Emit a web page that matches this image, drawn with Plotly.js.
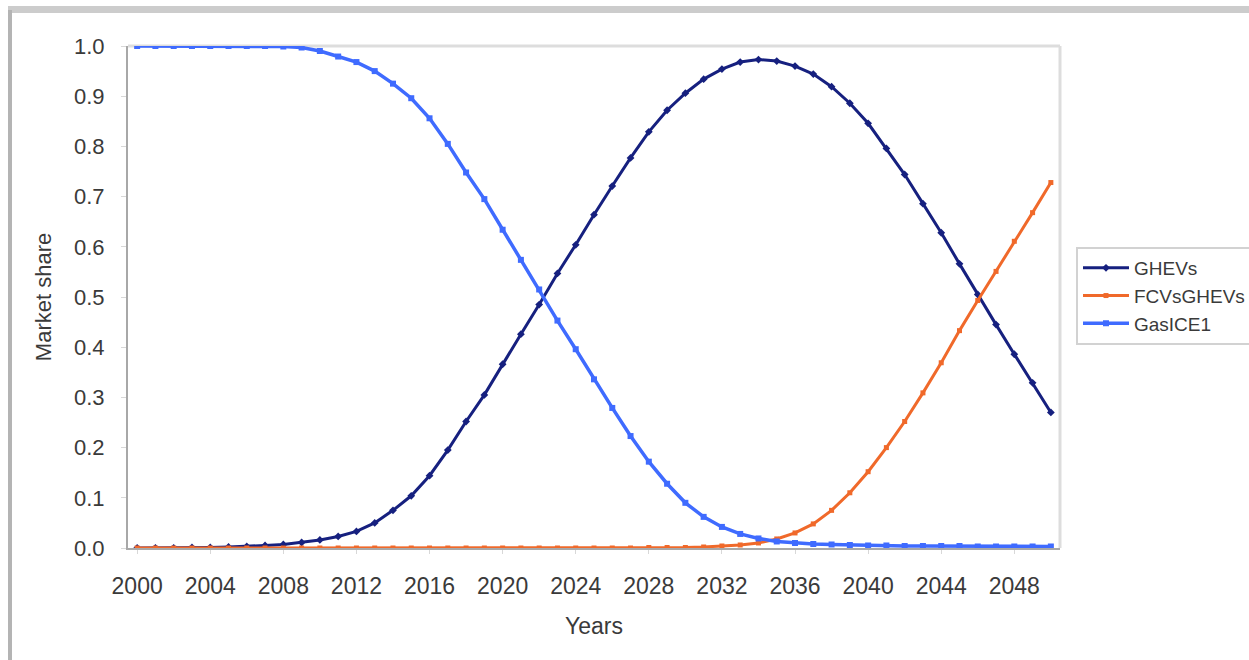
<!DOCTYPE html>
<html>
<head>
<meta charset="utf-8">
<script src="https://cdn.plot.ly/plotly-3.0.1.min.js"></script>
<style>
  html, body { margin: 0; padding: 0; background: #ffffff; }
  #chart { width: 1249px; height: 660px; }
</style>
</head>
<body>
<div id="chart"></div>
<script>
// Categories (years)
const years = [2000,2001,2002,2003,2004,2005,2006,2007,2008,2009,
               2010,2011,2012,2013,2014,2015,2016,2017,2018,2019,
               2020,2021,2022,2023,2024,2025,2026,2027,2028,2029,
               2030,2031,2032,2033,2034,2035,2036,2037,2038,2039,
               2040,2041,2042,2043,2044,2045,2046,2047,2048,2049,2050];

// Series values (market share)
const ghevs = [0.000,0.000,0.000,0.001,0.001,0.002,0.003,0.005,0.007,0.011,
               0.016,0.023,0.033,0.050,0.075,0.104,0.144,0.195,0.252,0.305,
               0.366,0.426,0.485,0.547,0.604,0.664,0.721,0.777,0.829,0.872,
               0.906,0.934,0.954,0.968,0.973,0.970,0.960,0.944,0.919,0.886,
               0.846,0.796,0.744,0.686,0.628,0.566,0.505,0.445,0.386,0.329,0.270];

const fcvsGhevs = [0.000,0.000,0.000,0.000,0.000,0.000,0.000,0.000,0.000,0.000,
                   0.000,0.000,0.000,0.000,0.000,0.000,0.000,0.000,0.000,0.000,
                   0.000,0.000,0.000,0.000,0.000,0.000,0.000,0.000,0.001,0.001,
                   0.001,0.002,0.004,0.006,0.010,0.018,0.030,0.048,0.075,0.110,
                   0.152,0.200,0.252,0.309,0.369,0.433,0.493,0.551,0.611,0.668,0.728];

const gasICE1 = [1.000,1.000,1.000,1.000,1.000,1.000,1.000,1.000,0.999,0.997,
                 0.990,0.979,0.968,0.950,0.925,0.896,0.856,0.805,0.748,0.695,
                 0.634,0.574,0.515,0.453,0.396,0.336,0.279,0.223,0.172,0.128,
                 0.090,0.062,0.042,0.028,0.019,0.013,0.010,0.008,0.007,0.006,
                 0.005,0.005,0.004,0.004,0.004,0.004,0.003,0.003,0.003,0.003,0.003];

// Tick labels
const xTickVals = [2000,2004,2008,2012,2016,2020,2024,2028,2032,2036,2040,2044,2048];
const xTickText = ["2000","2004","2008","2012","2016","2020","2024","2028","2032","2036","2040","2044","2048"];
const yTickVals = [0,0.1,0.2,0.3,0.4,0.5,0.6,0.7,0.8,0.9,1.0];
const yTickText = ["0.0","0.1","0.2","0.3","0.4","0.5","0.6","0.7","0.8","0.9","1.0"];

const seriesNames = ["GHEVs", "FCVsGHEVs", "GasICE1"];
const seriesColors = ["#16207f", "#f0692a", "#3f6bff"];

const FONT = "Liberation Sans, Arial, sans-serif";
const TXT = "#3a3a3a";

const traces = [
  { x: years, y: ghevs, name: seriesNames[0], type: "scatter", mode: "lines+markers",
    line: { color: seriesColors[0], width: 3 },
    marker: { color: seriesColors[0], symbol: "diamond", size: 6 } },
  { x: years, y: fcvsGhevs, name: seriesNames[1], type: "scatter", mode: "lines+markers",
    line: { color: seriesColors[1], width: 3 },
    marker: { color: seriesColors[1], symbol: "square", size: 5 } },
  { x: years, y: gasICE1, name: seriesNames[2], type: "scatter", mode: "lines+markers",
    line: { color: seriesColors[2], width: 3.5 },
    marker: { color: seriesColors[2], symbol: "square", size: 6 } }
];

// pixel -> paper helpers for frame decorations
const L = 128, R = 1060, T = 46, B = 548;
const px = v => (v - L) / (R - L);
const py = v => (B - v) / (B - T);

const layout = {
  width: 1249, height: 660,
  margin: { l: L, r: 1249 - R, t: T, b: 660 - B, pad: 0, autoexpand: false },
  paper_bgcolor: "#ffffff",
  plot_bgcolor: "#ffffff",
  font: { family: FONT, size: 22, color: TXT },
  showlegend: true,
  legend: {
    x: px(1076), xanchor: "left",
    y: py(296), yanchor: "middle",
    bgcolor: "#ffffff",
    bordercolor: "#d2d2d2", borderwidth: 2,
    font: { family: FONT, size: 19, color: TXT },
    itemwidth: 46,
    tracegroupgap: 2
  },
  xaxis: {
    range: [1999.5, 2050.5],
    tickmode: "array", tickvals: xTickVals, ticktext: xTickText,
    showgrid: false, zeroline: false,
    showline: true, linecolor: "#a8a8a8", linewidth: 2,
    ticks: "outside", ticklen: 4, tickcolor: "#d8d8d8",
    ticklabelstandoff: 12,
    tickfont: { family: FONT, size: 23, color: TXT },
    title: { text: "Years", font: { family: FONT, size: 23, color: TXT }, standoff: 20 }
  },
  yaxis: {
    range: [0, 1],
    tickmode: "array", tickvals: yTickVals, ticktext: yTickText,
    showgrid: false, zeroline: false,
    showline: true, linecolor: "#a8a8a8", linewidth: 2,
    ticks: "outside", ticklen: 5, tickcolor: "#d8d8d8",
    ticklabelstandoff: 12,
    tickfont: { family: FONT, size: 22, color: TXT },
    title: { text: "Market share", font: { family: FONT, size: 22, color: TXT }, standoff: 16 }
  },
  shapes: [
    // plot-area top and right border (light)
    { type: "line", xref: "paper", yref: "paper", x0: 0, x1: 1, y0: 1, y1: 1,
      line: { color: "#dddddd", width: 3 }, layer: "below" },
    { type: "line", xref: "paper", yref: "paper", x0: 1, x1: 1, y0: 0, y1: 1,
      line: { color: "#dddddd", width: 3 }, layer: "below" },
    // outer frame: top band
    { type: "rect", xref: "paper", yref: "paper", x0: px(8), x1: px(1249), y0: py(13), y1: py(6),
      fillcolor: "#cccccc", line: { width: 0 }, layer: "below" },
    // outer frame: left band
    { type: "rect", xref: "paper", yref: "paper", x0: px(8), x1: px(12), y0: py(660), y1: py(10),
      fillcolor: "#b4b4b4", line: { width: 0 }, layer: "below" }
  ]
};

Plotly.newPlot("chart", traces, layout, { staticPlot: true, displayModeBar: false });
</script>
</body>
</html>
